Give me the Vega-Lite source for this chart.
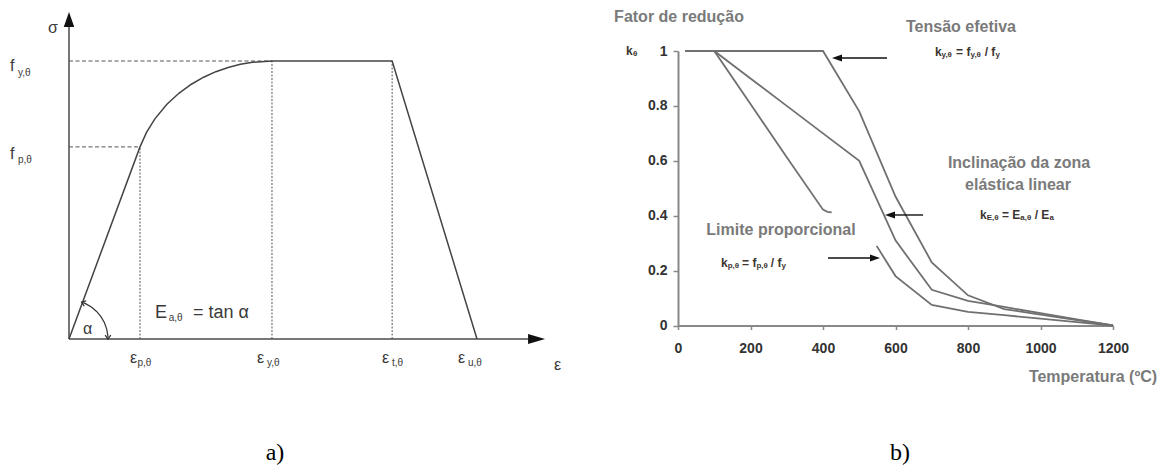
{
  "$schema": "https://vega.github.io/schema/vega-lite/v6.json",
  "width": 1165,
  "height": 469,
  "padding": 0,
  "autosize": {"type": "none"},
  "background": "white",
  "config": {"view": {"stroke": null}, "font": "Liberation Sans"},
  "layer": [
    {
      "encoding": {
        "x": {"field": "x", "type": "quantitative", "scale": {"domain": [0, 1], "range": [69, 477], "nice": false, "zero": false}, "axis": null},
        "y": {"field": "y", "type": "quantitative", "scale": {"domain": [0, 1], "range": [339, 61], "nice": false, "zero": false}, "axis": null}
      },
      "layer": [
        {
          "data": {"values": [
            {"x": 0, "x2": 0, "y": 0, "y2": 1.122},
            {"x": 0, "x2": 1.125, "y": 0, "y2": 0}
          ]},
          "mark": {"type": "rule", "stroke": "#777777", "strokeWidth": 2},
          "encoding": {"x2": {"field": "x2"}, "y2": {"field": "y2"}}
        },
        {
          "data": {"values": [
            {"x": 0, "x2": 0.4975, "y": 1},
            {"x": 0, "x2": 0.174, "y": 0.691}
          ]},
          "mark": {"type": "rule", "stroke": "#555555", "strokeWidth": 1, "strokeDash": [4, 2.5]},
          "encoding": {"x2": {"field": "x2"}}
        },
        {
          "data": {"values": [
            {"x": 0.174, "y": 0, "y2": 0.691},
            {"x": 0.4975, "y": 0, "y2": 1},
            {"x": 0.792, "y": 0, "y2": 1}
          ]},
          "mark": {"type": "rule", "stroke": "#555555", "strokeWidth": 1, "strokeDash": [2, 1.5]},
          "encoding": {"y2": {"field": "y2"}}
        },
        {
          "data": {"values": [
            {"x": 0, "y": 0}, {"x": 0.174, "y": 0.691}, {"x": 0.19, "y": 0.7434},
            {"x": 0.21, "y": 0.791}, {"x": 0.24, "y": 0.8443}, {"x": 0.27, "y": 0.8847},
            {"x": 0.3, "y": 0.9164}, {"x": 0.33, "y": 0.9417}, {"x": 0.36, "y": 0.9616},
            {"x": 0.39, "y": 0.9769}, {"x": 0.42, "y": 0.9881}, {"x": 0.45, "y": 0.9956},
            {"x": 0.4975, "y": 1}, {"x": 0.792, "y": 1}, {"x": 1, "y": 0}
          ]},
          "mark": {"type": "line", "stroke": "#444444", "strokeWidth": 1.5},
          "encoding": {}
        },
        {
          "data": {"values": [
            {"x": 0.0343, "y": 0.131}, {"x": 0.0404, "y": 0.1272}, {"x": 0.0548, "y": 0.1149},
            {"x": 0.0676, "y": 0.0992}, {"x": 0.0783, "y": 0.0805}, {"x": 0.0866, "y": 0.0593},
            {"x": 0.0923, "y": 0.0363}, {"x": 0.0952, "y": 0.0122}, {"x": 0.0955, "y": 0.005}
          ]},
          "mark": {"type": "line", "stroke": "#333333", "strokeWidth": 1.2},
          "encoding": {}
        },
        {
          "data": {"values": [{"x": 0, "y": 1.149}]},
          "mark": {"type": "point", "shape": "M0,-1L0.7,1L-0.7,1Z", "size": 225, "filled": true, "fill": "#111111", "opacity": 1, "strokeWidth": 0}
        },
        {
          "data": {"values": [{"x": 1.146, "y": 0}]},
          "mark": {"type": "point", "shape": "M1,0L-1,-0.6L-1,0.6Z", "size": 289, "filled": true, "fill": "#111111", "opacity": 1, "strokeWidth": 0}
        },
        {
          "data": {"values": [{"x": 0.0343, "y": 0.131}]},
          "mark": {"type": "point", "shape": "M-0.7,0.6L0,-0.4L0.7,0.6", "size": 64, "filled": false, "stroke": "#333333", "strokeWidth": 1.2, "opacity": 1, "angle": 291}
        },
        {
          "data": {"values": [{"x": 0.0955, "y": 0.005}]},
          "mark": {"type": "point", "shape": "M-0.7,0.6L0,-0.4L0.7,0.6", "size": 64, "filled": false, "stroke": "#333333", "strokeWidth": 1.2, "opacity": 1, "angle": 180}
        },
        {
          "data": {"values": [
            {"x": -0.0515, "y": 1.119, "text": "σ"},
            {"x": -0.1446, "y": 0.982, "text": "f"},
            {"x": -0.1446, "y": 0.6655, "text": "f"},
            {"x": 0.1495, "y": -0.068, "text": "ε"},
            {"x": 0.4608, "y": -0.068, "text": "ε"},
            {"x": 0.7672, "y": -0.068, "text": "ε"},
            {"x": 0.9534, "y": -0.068, "text": "ε"},
            {"x": 1.1887, "y": -0.0935, "text": "ε"},
            {"x": 0.0343, "y": 0.036, "text": "α"}
          ]},
          "mark": {"type": "text", "align": "left", "baseline": "middle", "fontSize": 16, "fill": "#3a3a3a"},
          "encoding": {"text": {"field": "text"}}
        },
        {
          "data": {"values": [
            {"x": 0.2108, "y": 0.0935, "text": "E"},
            {"x": 0.3039, "y": 0.0935, "text": "= tan α"}
          ]},
          "mark": {"type": "text", "align": "left", "baseline": "middle", "fontSize": 18, "fill": "#3a3a3a"},
          "encoding": {"text": {"field": "text"}}
        },
        {
          "data": {"values": [
            {"x": -0.125, "y": 0.957, "text": "y,θ"},
            {"x": -0.125, "y": 0.644, "text": "p,θ"},
            {"x": 0.1679, "y": -0.0863, "text": "p,θ"},
            {"x": 0.4853, "y": -0.0863, "text": "y,θ"},
            {"x": 0.7917, "y": -0.0863, "text": "t,θ"},
            {"x": 0.978, "y": -0.0863, "text": "u,θ"},
            {"x": 0.2445, "y": 0.0755, "text": "a,θ"}
          ]},
          "mark": {"type": "text", "align": "left", "baseline": "middle", "fontSize": 10, "fill": "#3a3a3a"},
          "encoding": {"text": {"field": "text"}}
        },
        {
          "data": {"values": [{"x": 0.505, "y": -0.41, "text": "a)"}]},
          "mark": {"type": "text", "align": "center", "baseline": "middle", "fontSize": 24, "font": "Liberation Serif", "fill": "#000000"},
          "encoding": {"text": {"field": "text"}}
        }
      ]
    },
    {
      "encoding": {
        "x": {
          "field": "T", "type": "quantitative",
          "scale": {"domain": [0, 1200], "range": [678, 1113], "nice": false, "zero": false},
          "axis": {
            "orient": "bottom", "offset": -143.5, "values": [0, 200, 400, 600, 800, 1000, 1200], "format": "d",
            "title": null, "grid": false, "labelFlush": false,
            "domainColor": "#888888", "domainWidth": 2, "tickColor": "#888888", "tickWidth": 1.5, "tickSize": 4,
            "labelPadding": 12, "labelFont": "Liberation Sans", "labelFontSize": 14, "labelFontWeight": "bold", "labelColor": "#333333"
          }
        },
        "y": {
          "field": "k", "type": "quantitative",
          "scale": {"domain": [0, 1], "range": [325.5, 51], "nice": false, "zero": false},
          "axis": {
            "orient": "left", "offset": -678, "values": [0, 0.2, 0.4, 0.6, 0.8, 1], "format": "~g",
            "title": null, "grid": false, "labelFlush": false,
            "domainColor": "#888888", "domainWidth": 2, "tickColor": "#888888", "tickWidth": 1.5, "tickSize": 5,
            "labelPadding": 6, "labelFont": "Liberation Sans", "labelFontSize": 14, "labelFontWeight": "bold", "labelColor": "#333333"
          }
        }
      },
      "layer": [
        {
          "data": {"values": [
            {"s": "ky", "T": 20, "k": 1}, {"s": "ky", "T": 100, "k": 1}, {"s": "ky", "T": 200, "k": 1},
            {"s": "ky", "T": 300, "k": 1}, {"s": "ky", "T": 400, "k": 1}, {"s": "ky", "T": 500, "k": 0.78},
            {"s": "ky", "T": 600, "k": 0.47}, {"s": "ky", "T": 700, "k": 0.23}, {"s": "ky", "T": 800, "k": 0.11},
            {"s": "ky", "T": 900, "k": 0.06}, {"s": "ky", "T": 1000, "k": 0.04}, {"s": "ky", "T": 1100, "k": 0.02},
            {"s": "ky", "T": 1200, "k": 0},
            {"s": "kE", "T": 20, "k": 1}, {"s": "kE", "T": 100, "k": 1}, {"s": "kE", "T": 200, "k": 0.9},
            {"s": "kE", "T": 300, "k": 0.8}, {"s": "kE", "T": 400, "k": 0.7}, {"s": "kE", "T": 500, "k": 0.6},
            {"s": "kE", "T": 600, "k": 0.31}, {"s": "kE", "T": 700, "k": 0.13}, {"s": "kE", "T": 800, "k": 0.09},
            {"s": "kE", "T": 900, "k": 0.0675}, {"s": "kE", "T": 1000, "k": 0.045}, {"s": "kE", "T": 1100, "k": 0.0225},
            {"s": "kE", "T": 1200, "k": 0},
            {"s": "kp1", "T": 20, "k": 1}, {"s": "kp1", "T": 100, "k": 1}, {"s": "kp1", "T": 200, "k": 0.807},
            {"s": "kp1", "T": 300, "k": 0.613}, {"s": "kp1", "T": 400, "k": 0.422}, {"s": "kp1", "T": 412, "k": 0.414},
            {"s": "kp1", "T": 424, "k": 0.412},
            {"s": "kp2", "T": 548, "k": 0.29}, {"s": "kp2", "T": 600, "k": 0.18}, {"s": "kp2", "T": 700, "k": 0.075},
            {"s": "kp2", "T": 800, "k": 0.05}, {"s": "kp2", "T": 900, "k": 0.0375}, {"s": "kp2", "T": 1000, "k": 0.025},
            {"s": "kp2", "T": 1100, "k": 0.0125}, {"s": "kp2", "T": 1200, "k": 0}
          ]},
          "mark": {"type": "line", "stroke": "#707070", "strokeWidth": 1.8},
          "encoding": {"detail": {"field": "s"}}
        },
        {
          "data": {"values": [
            {"T": 447, "T2": 576.5, "k": 0.9745},
            {"T": 593, "T2": 676, "k": 0.4026},
            {"T": 413.8, "T2": 535, "k": 0.2459}
          ]},
          "mark": {"type": "rule", "stroke": "#111111", "strokeWidth": 1.4},
          "encoding": {"x2": {"field": "T2"}}
        },
        {
          "data": {"values": [{"T": 438.6, "k": 0.9745}, {"T": 584.8, "k": 0.4026}]},
          "mark": {"type": "point", "shape": "M-1,0L1,-0.7L1,0.7Z", "size": 100, "filled": true, "fill": "#111111", "opacity": 1, "strokeWidth": 0}
        },
        {
          "data": {"values": [{"T": 543.4, "k": 0.2459}]},
          "mark": {"type": "point", "shape": "M1,0L-1,-0.7L-1,0.7Z", "size": 100, "filled": true, "fill": "#111111", "opacity": 1, "strokeWidth": 0}
        },
        {
          "data": {"values": [
            {"T": 2.8, "k": 1.1239, "text": "Fator de redução"},
            {"T": 780.7, "k": 1.0874, "text": "Tensão efetiva"},
            {"T": 940.7, "k": 0.592, "text": "Inclinação da zona"},
            {"T": 938, "k": 0.5118, "text": "elástica linear"},
            {"T": 284.1, "k": 0.3479, "text": "Limite proporcional"},
            {"T": 1144.8, "k": -0.1876, "text": "Temperatura (ºC)"}
          ]},
          "mark": {"type": "text", "align": "center", "baseline": "middle", "fontSize": 16, "fontWeight": "bold", "fill": "#7a7a7a"},
          "encoding": {"text": {"field": "text"}}
        },
        {
          "data": {"values": [
            {"T": 709, "k": 0.9964, "text": "k"}, {"T": 767, "k": 0.9964, "text": "= f"}, {"T": 846, "k": 0.9964, "text": "/ f"},
            {"T": 833, "k": 0.4026, "text": "k"}, {"T": 893.8, "k": 0.4026, "text": "= E"}, {"T": 984, "k": 0.4026, "text": "/ E"},
            {"T": 118.6, "k": 0.2266, "text": "k"}, {"T": 176.8, "k": 0.2266, "text": "= f"}, {"T": 256, "k": 0.2266, "text": "/ f"},
            {"T": -143.4, "k": 1.0, "text": "k"}
          ]},
          "mark": {"type": "text", "align": "left", "baseline": "middle", "fontSize": 12, "fontWeight": "bold", "fill": "#3d3530"},
          "encoding": {"text": {"field": "text"}}
        },
        {
          "data": {"values": [
            {"T": 727, "k": 0.9855, "text": "y,θ"}, {"T": 807, "k": 0.9855, "text": "y,θ"}, {"T": 876, "k": 0.9855, "text": "y"},
            {"T": 851.6, "k": 0.3916, "text": "E,θ"}, {"T": 944.3, "k": 0.3916, "text": "a,θ"}, {"T": 1024.5, "k": 0.3916, "text": "a"},
            {"T": 137.1, "k": 0.2156, "text": "p,θ"}, {"T": 216.3, "k": 0.2156, "text": "p,θ"}, {"T": 285.5, "k": 0.2156, "text": "y"},
            {"T": -124, "k": 0.989, "text": "θ"}
          ]},
          "mark": {"type": "text", "align": "left", "baseline": "middle", "fontSize": 8, "fontWeight": "bold", "fill": "#3d3530"},
          "encoding": {"text": {"field": "text"}}
        },
        {
          "data": {"values": [{"T": 612.4, "k": -0.4645, "text": "b)"}]},
          "mark": {"type": "text", "align": "center", "baseline": "middle", "fontSize": 24, "font": "Liberation Serif", "fill": "#000000"},
          "encoding": {"text": {"field": "text"}}
        }
      ]
    }
  ],
  "resolve": {"scale": {"x": "independent", "y": "independent"}}
}
